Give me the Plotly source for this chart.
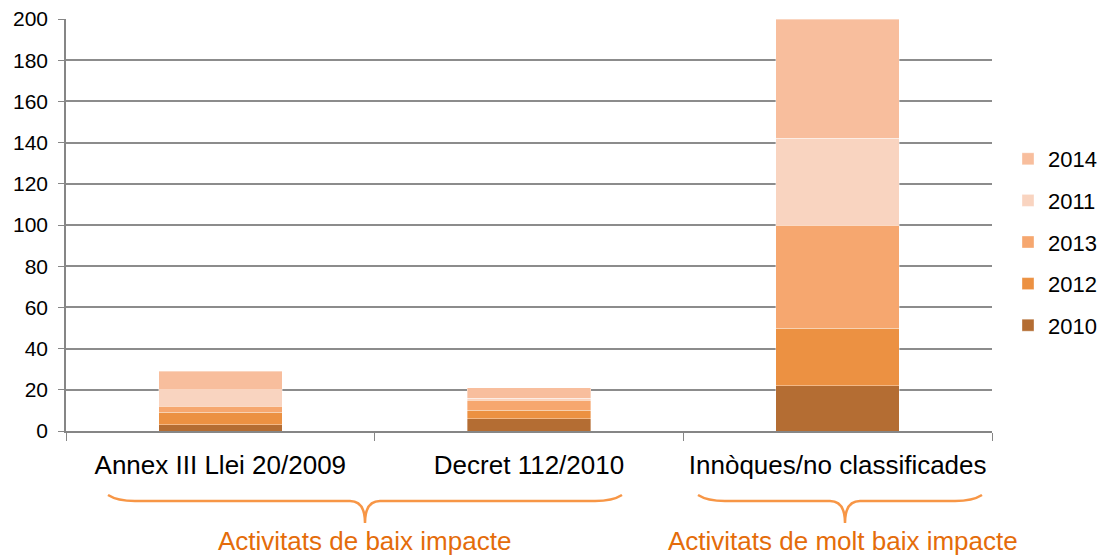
import plotly.graph_objects as go

categories = ["Annex III Llei 20/2009", "Decret 112/2010", "Innòques/no classificades"]
series_names = ["2010", "2012", "2013", "2011", "2014"]
v2010 = [3, 6, 22]
v2012 = [6, 4, 28]
v2013 = [3, 5, 50]
v2011 = [8, 1, 42]
v2014 = [9, 5, 58]
series_values = [v2010, v2012, v2013, v2011, v2014]
colors = ["#B46D33", "#EC9142", "#F6A76F", "#F9D4C0", "#F8BE9D"]
legend_ranks = [5, 4, 3, 2, 1]
y_ticks = [0, 20, 40, 60, 80, 100, 120, 140, 160, 180, 200]

# page body has an 8px margin; plot area in reference pixels: x 66..992, y 19..431
OFF = 8
W, H = 1110 - OFF, 558 - OFF
PX0, PX1, PY0, PY1 = 66, 992, 19, 431
ML, MT = PX0 - OFF, PY0 - OFF
MR, MB = W - (PX1 - OFF), H - (PY1 - OFF)
PW, PH = PX1 - PX0, PY1 - PY0

def px2x(px):
    return (px - PX0) / PW

def py2y(py):
    return (PY1 - py) / PH

fig = go.Figure()
for name, vals, col, rk in zip(series_names, series_values, colors, legend_ranks):
    fig.add_trace(go.Bar(
        x=categories, y=vals, name=name, legendgroup=name, legendrank=rk,
        marker=dict(color=col, line=dict(color="rgba(255,255,255,0.45)", width=0.8)),
        width=0.4,
    ))

def brace_path(xl, xt, xr):
    ye, yf, yt = py2y(495), py2y(501), py2y(523)
    c = 27 / PW
    t = 15 / PW
    a = px2x(xl); m = px2x(xt); b = px2x(xr)
    return (f"M {a},{ye} Q {a + c*0.35},{yf} {a + c},{yf} "
            f"L {m - t},{yf} Q {m},{yf} {m},{yt} "
            f"Q {m},{yf} {m + t},{yf} "
            f"L {b - c},{yf} Q {b - c*0.35},{yf} {b},{ye}")

shapes = [
    dict(type="path", xref="paper", yref="paper", path=brace_path(108, 365, 622),
         line=dict(color="#F79646", width=2.5)),
    dict(type="path", xref="paper", yref="paper", path=brace_path(698, 845, 982),
         line=dict(color="#F79646", width=2.5)),
]

annotations = [
    dict(text="Activitats de baix impacte", x=px2x(364), y=py2y(541), xref="paper", yref="paper",
         showarrow=False, font=dict(size=26, color="#E46C0A", family="Liberation Sans, Arial"),
         xanchor="center", yanchor="middle"),
    dict(text="Activitats de molt baix impacte", x=px2x(843), y=py2y(541), xref="paper", yref="paper",
         showarrow=False, font=dict(size=26, color="#E46C0A", family="Liberation Sans, Arial"),
         xanchor="center", yanchor="middle"),
]

fig.update_layout(
    width=W, height=H,
    margin=dict(l=ML, r=MR, t=MT, b=MB, pad=0, autoexpand=False),
    barmode="stack",
    plot_bgcolor="white", paper_bgcolor="white",
    font=dict(family="Liberation Sans, Arial", color="black", size=20),
    shapes=shapes, annotations=annotations,
    legend=dict(x=px2x(1008), y=py2y(242), xanchor="left", yanchor="middle",
                traceorder="grouped", tracegroupgap=10,
                font=dict(size=22, color="black"), itemwidth=30),
    xaxis=dict(tickson="boundaries", ticks="outside", ticklen=8, tickcolor="#868686",
               showline=True, linecolor="#868686", linewidth=1.5, tickangle=0, automargin=False,
               tickfont=dict(size=26), showgrid=False, ticklabelstandoff=10),
    yaxis=dict(range=[0, 200], tickvals=y_ticks, ticks="outside", ticklen=6, tickcolor="#868686",
               showline=True, linecolor="#868686", linewidth=1.5, automargin=False,
               showgrid=True, gridcolor="#8C8C8C", gridwidth=1.5, zeroline=False,
               tickfont=dict(size=21), ticklabelstandoff=6, ticklabeloverflow="allow"),
    bargap=0.6,
)

fig.write_html("out.html")
